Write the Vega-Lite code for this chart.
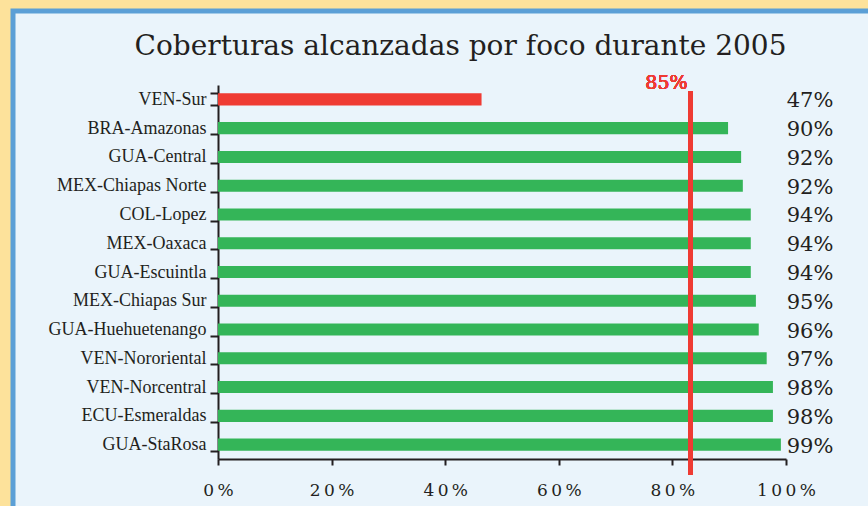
{
  "$schema": "https://vega.github.io/schema/vega-lite/v6.json",
  "autosize": {"type": "none"},
  "width": 865,
  "height": 505,
  "padding": {"left": 13, "top": 11, "right": -10, "bottom": -10},
  "background": "#FDE29B",
  "config": {
    "view": {"fill": "#EAF4FB", "stroke": "#5B9FD6", "strokeWidth": 5}
  },
  "title": {
    "text": "Coberturas alcanzadas por foco durante 2005",
    "frame": "group",
    "anchor": "middle",
    "baseline": "alphabetic",
    "offset": -81,
    "dx": 15,
    "font": "DejaVu Serif",
    "fontSize": 28,
    "fontWeight": "normal",
    "color": "#231F20"
  },
  "data": {
    "values": [
      {"foco": "VEN-Sur", "cobertura": 46.4, "etiqueta": "47%", "estado": "bajo"},
      {"foco": "BRA-Amazonas", "cobertura": 89.8, "etiqueta": "90%", "estado": "meta"},
      {"foco": "GUA-Central", "cobertura": 92.1, "etiqueta": "92%", "estado": "meta"},
      {"foco": "MEX-Chiapas Norte", "cobertura": 92.4, "etiqueta": "92%", "estado": "meta"},
      {"foco": "COL-Lopez", "cobertura": 93.8, "etiqueta": "94%", "estado": "meta"},
      {"foco": "MEX-Oaxaca", "cobertura": 93.8, "etiqueta": "94%", "estado": "meta"},
      {"foco": "GUA-Escuintla", "cobertura": 93.8, "etiqueta": "94%", "estado": "meta"},
      {"foco": "MEX-Chiapas Sur", "cobertura": 94.7, "etiqueta": "95%", "estado": "meta"},
      {"foco": "GUA-Huehuetenango", "cobertura": 95.2, "etiqueta": "96%", "estado": "meta"},
      {"foco": "VEN-Nororiental", "cobertura": 96.6, "etiqueta": "97%", "estado": "meta"},
      {"foco": "VEN-Norcentral", "cobertura": 97.7, "etiqueta": "98%", "estado": "meta"},
      {"foco": "ECU-Esmeraldas", "cobertura": 97.7, "etiqueta": "98%", "estado": "meta"},
      {"foco": "GUA-StaRosa", "cobertura": 99.1, "etiqueta": "99%", "estado": "meta"}
    ]
  },
  "encoding": {
    "y": {
      "field": "foco",
      "type": "nominal",
      "sort": null,
      "scale": {"range": [74, 448], "paddingInner": 0.58, "paddingOuter": 0.29},
      "axis": {
        "title": null,
        "orient": "left",
        "offset": -205,
        "domainColor": "#231F20",
        "domainWidth": 2,
        "tickColor": "#231F20",
        "tickWidth": 2,
        "tickSize": 8,
        "tickBand": "extent",
        "labelFont": "Liberation Serif",
        "labelFontSize": 18,
        "labelColor": "#231F20",
        "labelPadding": 4
      }
    }
  },
  "layer": [
    {
      "mark": {"type": "bar"},
      "encoding": {
        "x": {
          "field": "cobertura",
          "type": "quantitative",
          "scale": {"domain": [0, 100], "range": [205, 773], "nice": false},
          "axis": {
            "title": null,
            "orient": "bottom",
            "offset": -57,
            "values": [0, 20, 40, 60, 80, 100],
            "grid": false,
            "labelFlush": false,
            "labelOverlap": false,
            "domainColor": "#231F20",
            "domainWidth": 2,
            "tickColor": "#231F20",
            "tickWidth": 2,
            "tickSize": 6,
            "labelExpr": "join(split(datum.value + '%', ''), '\u2009')",
            "labelFont": "DejaVu Serif",
            "labelFontSize": 17,
            "labelColor": "#231F20",
            "labelPadding": 17
          }
        },
        "color": {
          "field": "estado",
          "type": "nominal",
          "scale": {"domain": ["bajo", "meta"], "range": ["#EF3B33", "#34B558"]},
          "legend": null
        }
      }
    },
    {
      "mark": {"type": "rule", "color": "#EF3B33", "strokeWidth": 4.5},
      "encoding": {
        "x": {"datum": 83.2, "type": "quantitative"},
        "y": {"datum": "VEN-Sur", "type": "nominal", "bandPosition": -0.17},
        "y2": {"datum": "GUA-StaRosa", "bandPosition": 3}
      }
    },
    {
      "mark": {"type": "text", "text": "85%", "color": "#EF3B33", "font": "DejaVu Serif", "fontSize": 19, "fontWeight": "normal", "align": "right", "baseline": "alphabetic", "dx": -3, "dy": -10},
      "encoding": {
        "x": {"datum": 83.2, "type": "quantitative"},
        "y": {"datum": "VEN-Sur", "type": "nominal"}
      }
    },
    {
      "mark": {"type": "text", "font": "DejaVu Serif", "fontSize": 21, "color": "#231F20", "align": "center", "baseline": "middle", "dx": 24, "dy": 2},
      "encoding": {
        "x": {"datum": 100, "type": "quantitative"},
        "text": {"field": "etiqueta", "type": "nominal"}
      }
    }
  ]
}
